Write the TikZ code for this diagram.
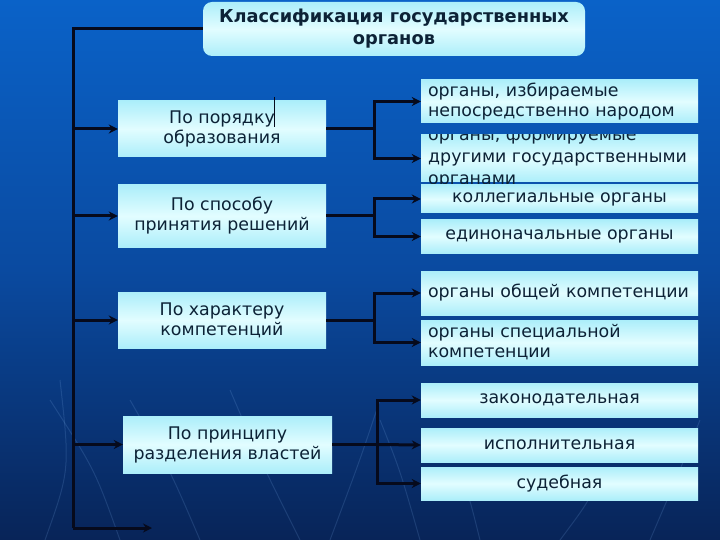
\documentclass[tikz,border=0pt]{standalone}
\usepackage{fontspec}
\setmainfont{DejaVu Sans}
\usetikzlibrary{arrows.meta,calc}
\definecolor{bgtop}{RGB}{10,98,200}
\definecolor{bgmid}{RGB}{10,74,160}
\definecolor{bgbot}{RGB}{8,36,88}
\definecolor{boxlight}{RGB}{226,253,255}
\definecolor{boxdark}{RGB}{172,238,250}
\definecolor{ink}{RGB}{12,34,54}
\definecolor{wire}{RGB}{6,10,28}
\definecolor{streak}{RGB}{120,170,230}
\tikzset{
  cbox/.style={draw=none, top color=boxdark, bottom color=boxdark, middle color=boxlight,
    text=ink, font=\fontsize{17.4}{20}\selectfont, align=center, inner sep=0pt},
  lbox/.style={cbox, minimum width=208pt},
  rbox/.style={cbox, minimum width=277pt},
  rlbox/.style={cbox, align=left, text width=263pt, inner xsep=7pt, inner ysep=0pt},
  titlebox/.style={cbox, rounded corners=9pt, font=\bfseries\fontsize{17.8}{22}\selectfont},
  wireline/.style={draw=wire, line width=3pt},
  wirearrow/.style={wireline, -{Stealth[length=9pt,width=9pt]}},
}
\begin{document}
\begin{tikzpicture}[x=1pt,y=-1pt]
\useasboundingbox (0,0) rectangle (720,540);
\shade[top color=bgtop, bottom color=bgbot, middle color=bgmid] (0,0) rectangle (720,540);
% faint background streaks
\begin{scope}[draw=streak, opacity=0.18, line width=1pt]
  \draw (45,540) .. controls (70,470) .. (60,380);
  \draw (120,540) .. controls (95,470) .. (50,400);
  \draw (200,540) .. controls (170,470) .. (130,400);
  \draw (300,540) .. controls (260,460) .. (230,390);
  \draw (330,540) .. controls (360,460) .. (380,400);
  \draw (420,540) .. controls (400,470) .. (380,420);
  \draw (480,540) .. controls (470,500) .. (460,470);
  \draw (560,540) .. controls (590,500) .. (600,470);
  \draw (650,540) .. controls (680,470) .. (700,420);
\end{scope}

% title
\node[titlebox, minimum width=382pt, minimum height=54pt] (title) at (394,29)
  {Классификация государственных\\органов};

% left boxes
\node[lbox, minimum height=56pt] (lb1) at (222,129) {По порядку\\образования};
\node[lbox, minimum height=62pt] (lb2) at (222,216) {По способу\\принятия решений};
\node[lbox, minimum height=56pt] (lb3) at (222,320) {По характеру\\компетенций};
\node[lbox, minimum width=209pt, minimum height=57pt] (lb4) at (227.5,444.5) {По принципу\\разделения властей};
\coordinate (tickA) at (274,97);
\coordinate (tickB) at (274,127);
\draw[draw=wire, line width=0.6pt] (tickA) -- (tickB);

% right boxes
\node[rlbox, minimum height=43pt] (rb1) at (559.5,101.5) {органы, избираемые\\непосредственно народом};
\node[rbox, minimum height=47pt] (rb2) at (559.5,158.5) {};
\begin{scope}
  \clip (421,135) rectangle (698,200);
  \node[text=ink, font=\fontsize{17.4}{22}\selectfont, align=left, anchor=north west, inner sep=0pt]
    (rb2t) at (428,128) {органы, формируемые\\другими государственными\\органами};
\end{scope}
\node[rbox, minimum height=28pt] (rb3) at (559.5,199) {коллегиальные органы};
\node[rbox, minimum height=33pt] (rb4) at (559.5,236.5) {единоначальные органы};
\node[rlbox, minimum height=44pt] (rb5) at (559.5,293) {органы общей компетенции};
\node[rlbox, minimum height=45pt] (rb6) at (559.5,342.5) {органы специальной\\компетенции};
\node[rbox, minimum height=34pt] (rb7) at (559.5,400) {законодательная};
\node[rbox, minimum height=34pt] (rb8) at (559.5,445) {исполнительная};
\node[rbox, minimum height=33pt] (rb9) at (559.5,483.5) {судебная};

% trunk
\coordinate (ttop) at (73,29);
\coordinate (tbot) at (73,528);
\coordinate (tend) at (152,528);
\draw[wireline] (title.west) -- (ttop) -- (tbot);
\draw[wirearrow] (tbot) -- (tend);
\foreach \b in {lb1,lb2,lb3,lb4}
  \draw[wirearrow] (\b.west -| ttop) -- (\b.west);

% brackets
\coordinate (b1) at (374,129);
\coordinate (b2) at (374,216);
\coordinate (b3) at (374,320);
\coordinate (b4) at (377,444.5);
\draw[wireline] (lb1.east) -- (b1);
\draw[wirearrow] (b1) |- (rb1.west);
\draw[wirearrow] (b1) |- (rb2.west);
\draw[wireline] (lb2.east) -- (b2);
\draw[wirearrow] (b2) |- (rb3.west);
\draw[wirearrow] (b2) |- (rb4.west);
\draw[wireline] (lb3.east) -- (b3);
\draw[wirearrow] (b3) |- (rb5.west);
\draw[wirearrow] (b3) |- (rb6.west);
\draw[wireline] (lb4.east) -- (b4);
\draw[wirearrow] (b4) |- (rb7.west);
\draw[wirearrow] (b4) -- (rb8.west);
\draw[wirearrow] (b4) |- (rb9.west);
\end{tikzpicture}
\end{document}
